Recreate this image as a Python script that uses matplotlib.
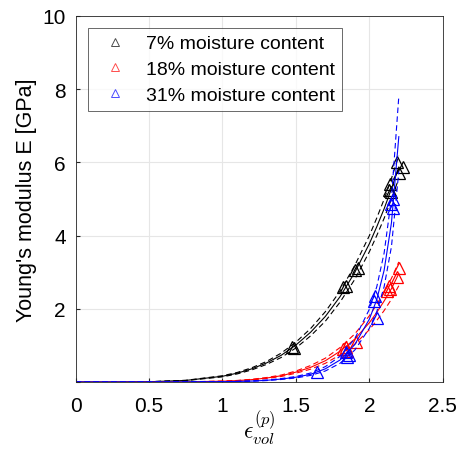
import matplotlib
matplotlib.use('Agg')
import matplotlib.pyplot as plt

plt.rcParams['font.family'] = ['Liberation Sans', 'DejaVu Sans']
plt.rcParams['mathtext.fontset'] = 'cm'

# measured points (strain, modulus)
black_x = [1.47, 1.49, 1.82, 1.84, 1.90, 1.92, 2.13, 2.14, 2.15, 2.19, 2.20, 2.23]
black_y = [0.95, 0.92, 2.60, 2.62, 3.05, 3.10, 5.25, 5.40, 5.20, 6.00, 5.70, 5.88]
red_x = [1.82, 1.84, 1.85, 1.91, 2.12, 2.13, 2.14, 2.19, 2.20]
red_y = [0.90, 0.96, 0.85, 1.09, 2.49, 2.62, 2.55, 2.87, 3.10]
blue_x = [1.64, 1.84, 1.85, 1.86, 2.03, 2.04, 2.05, 2.15, 2.16, 2.16]
blue_y = [0.27, 0.82, 0.68, 0.75, 2.20, 2.35, 1.75, 4.86, 5.00, 4.75]

# fitted curves + bounds
fit_x = [0, 0.25, 0.5, 0.75, 1.0, 1.1, 1.2, 1.3, 1.4, 1.5, 1.6, 1.7, 1.8, 1.9,
         2.0, 2.05, 2.1, 2.15, 2.2]
black_fit = [0, 0.0003, 0.0064, 0.042, 0.156, 0.24, 0.36, 0.52, 0.73, 1.01, 1.36,
             1.79, 2.33, 2.99, 3.78, 4.24, 4.73, 5.28, 5.87]
black_hi = [0, 0.0003, 0.007, 0.046, 0.17, 0.26, 0.39, 0.56, 0.79, 1.09, 1.46,
            1.92, 2.48, 3.18, 4.00, 4.48, 4.99, 5.56, 6.18]
black_lo = [0, 0.0003, 0.006, 0.038, 0.14, 0.22, 0.33, 0.48, 0.67, 0.93, 1.26,
            1.66, 2.18, 2.80, 3.56, 4.00, 4.47, 5.00, 5.56]
red_fit = [0, 0, 0.0003, 0.0034, 0.021, 0.037, 0.065, 0.108, 0.17, 0.27, 0.40,
           0.58, 0.84, 1.17, 1.62, 1.90, 2.21, 2.55, 2.96]
red_hi = [0, 0, 0.0004, 0.004, 0.024, 0.042, 0.074, 0.122, 0.19, 0.30, 0.45,
          0.65, 0.94, 1.31, 1.81, 2.12, 2.46, 2.83, 3.28]
red_lo = [0, 0, 0.0003, 0.003, 0.018, 0.033, 0.057, 0.095, 0.15, 0.24, 0.35,
          0.51, 0.74, 1.03, 1.43, 1.68, 1.95, 2.26, 2.63]
blue_fit = [0, 0, 0.0005, 0.002, 0.008, 0.014, 0.025, 0.045, 0.08, 0.13, 0.21,
            0.36, 0.60, 1.02, 1.72, 2.25, 3.05, 4.35, 6.7]
blue_hi = [0, 0, 0.0006, 0.0025, 0.01, 0.017, 0.03, 0.053, 0.094, 0.15, 0.245,
           0.42, 0.70, 1.18, 1.99, 2.60, 3.52, 5.02, 7.8]
blue_lo = [0, 0, 0.0004, 0.0017, 0.007, 0.012, 0.021, 0.038, 0.068, 0.11, 0.18,
           0.30, 0.51, 0.87, 1.47, 1.92, 2.60, 3.70, 5.75]

labels = ['7% moisture content', '18% moisture content', '31% moisture content']

fig = plt.figure(figsize=(4.58, 4.52), dpi=100)
ax = fig.add_axes([0.165, 0.1527, 0.802, 0.81])

groups = [
    ('k', black_x, black_y, black_fit, black_hi, black_lo),
    ('r', red_x, red_y, red_fit, red_hi, red_lo),
    ('b', blue_x, blue_y, blue_fit, blue_hi, blue_lo),
]
for (c, px, py, fit, hi, lo), lab in zip(groups, labels):
    ax.plot(px, py, linestyle='none', marker='^', markersize=8,
            markerfacecolor='none', markeredgecolor=c, markeredgewidth=0.9)
    ax.plot(fit_x, fit, color=c, lw=0.8)
    ax.plot(fit_x, hi, color=c, lw=0.8, dashes=(5, 3))
    ax.plot(fit_x, lo, color=c, lw=0.8, dashes=(5, 3))

# legend shows small open triangles only
handles = []
for (c, *_), lab in zip(groups, labels):
    h, = ax.plot([], [], linestyle='none', marker='^', markersize=6,
                 markerfacecolor='none', markeredgecolor=c, markeredgewidth=0.7,
                 alpha=0.7, label=lab)
    handles.append(h)

ax.set_xlim(0, 2.5)
ax.set_ylim(0, 10)
ax.set_xticks([0, 0.5, 1, 1.5, 2, 2.5])
ax.set_xticklabels(['0', '0.5', '1', '1.5', '2', '2.5'])
ax.set_yticks([0, 2, 4, 6, 8, 10])
ax.set_yticklabels(['', '2', '4', '6', '8', '10'])
ax.grid(True, color='#e6e6e6', lw=0.8)
ax.set_axisbelow(True)
ax.tick_params(direction='in', length=3, labelsize=15, color='#262626')
ax.tick_params(axis='x', pad=10)
ax.tick_params(axis='y', pad=7)
for s in ax.spines.values():
    s.set_color('#262626')
    s.set_linewidth(0.6)

ax.set_ylabel("Young's modulus E [GPa]", fontsize=15.5, labelpad=4)
# the original label runs off the bottom edge; kept just inside here
ax.set_xlabel(r'$\epsilon_{vol}^{(p)}$', fontsize=17, labelpad=-4)

leg = ax.legend(handles=handles, loc='upper left', bbox_to_anchor=(0.035, 0.967),
                fontsize=14, frameon=True, fancybox=False, borderpad=0.35,
                labelspacing=0.42, handlelength=2.0, handletextpad=0.6,
                borderaxespad=0)
leg.get_frame().set_edgecolor('#262626')
leg.get_frame().set_linewidth(0.6)

fig.savefig('out.png', dpi=100)
